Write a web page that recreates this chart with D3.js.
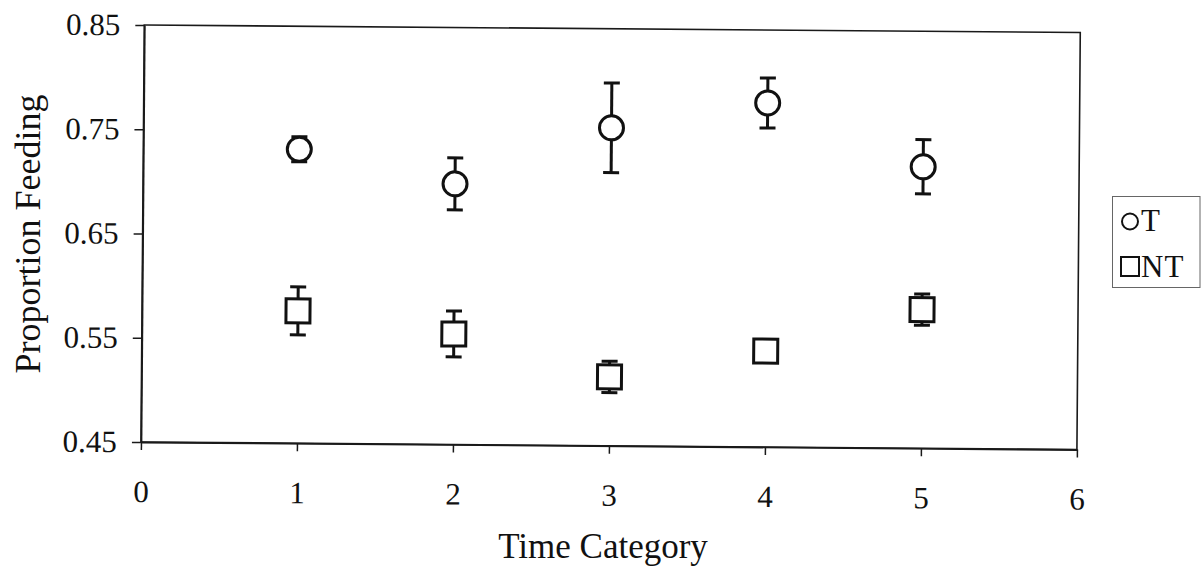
<!DOCTYPE html>
<html>
<head>
<meta charset="utf-8">
<script src="https://cdn.jsdelivr.net/npm/d3@7"></script>
<style>
  html, body { margin: 0; padding: 0; background: #fff; }
  svg { display: block; }
  text { font-family: "Liberation Serif", "Times New Roman", serif; fill: #111; }
</style>
</head>
<body>
<svg id="chart" width="1201" height="573"></svg>
<script>
// Time categories and the two series (mean proportion feeding, with error)
const categories = [1, 2, 3, 4, 5];
const tValues   = [0.732, 0.700, 0.755, 0.780, 0.720];
const tErrors   = [0.012, 0.025, 0.043, 0.024, 0.026];
const ntValues  = [0.577, 0.556, 0.516, 0.542, 0.583];
const ntErrors  = [0.023, 0.022, 0.015, 0.010, 0.015];
const xTicks = [0, 1, 2, 3, 4, 5, 6];
const yTicks = [0.45, 0.55, 0.65, 0.75, 0.85];
const seriesNames = ["T", "NT"];

const svg = d3.select("#chart");
const W = 936, H = 417;

// plot area, with the slight tilt of the printed figure
const g = svg.append("g").attr("transform", "translate(144.3,25) rotate(0.46)");

const x = d3.scaleLinear().domain([0, 6]).range([0, W]);
const y = d3.scaleLinear().domain([0.45, 0.85]).range([H, 0]);

// frame
g.append("rect").attr("x", 0).attr("y", 0).attr("width", W).attr("height", H)
  .attr("fill", "none").attr("stroke", "#1a1a1a").attr("stroke-width", 1.6);

const yAxis = g.append("g")
  .call(d3.axisLeft(y).tickValues(yTicks).tickFormat(d3.format(".2f")).tickSize(9).tickSizeOuter(0).tickPadding(15));
const xAxis = g.append("g").attr("transform", `translate(0,${H})`)
  .call(d3.axisBottom(x).tickValues(xTicks).tickFormat(d3.format("d")).tickSize(8).tickSizeOuter(0).tickPadding(30));
[yAxis, xAxis].forEach(a => {
  a.select(".domain").attr("stroke", "#1a1a1a").attr("stroke-width", 1.8);
  a.selectAll(".tick line").attr("stroke", "#1a1a1a").attr("stroke-width", 1.5);
  a.selectAll(".tick text").style("font-family", "Liberation Serif, serif").style("font-size", "31px").attr("fill", "#111");
});

function errorBars(values, errors) {
  const eb = g.append("g").attr("stroke", "#111").attr("stroke-width", 3).attr("fill", "none");
  categories.forEach((c, i) => {
    const cx = x(c), hi = y(values[i] + errors[i]), lo = y(values[i] - errors[i]);
    eb.append("line").attr("x1", cx).attr("x2", cx).attr("y1", hi).attr("y2", lo);
    eb.append("line").attr("x1", cx - 8).attr("x2", cx + 8).attr("y1", hi).attr("y2", hi);
    eb.append("line").attr("x1", cx - 8).attr("x2", cx + 8).attr("y1", lo).attr("y2", lo);
  });
}
errorBars(tValues, tErrors);
errorBars(ntValues, ntErrors);

// T: open circles
g.append("g").selectAll("circle").data(categories).join("circle")
  .attr("cx", d => x(d)).attr("cy", (d, i) => y(tValues[i])).attr("r", 12)
  .attr("fill", "#fff").attr("stroke", "#111").attr("stroke-width", 3);

// NT: open squares
const s = 24;
g.append("g").selectAll("rect").data(categories).join("rect")
  .attr("x", d => x(d) - s / 2).attr("y", (d, i) => y(ntValues[i]) - s / 2)
  .attr("width", s).attr("height", s)
  .attr("fill", "#fff").attr("stroke", "#111").attr("stroke-width", 3);

// axis titles
svg.append("text").attr("x", 603).attr("y", 558).attr("text-anchor", "middle")
  .style("font-size", "35px").text("Time Category");
svg.append("text").attr("transform", "translate(40,234) rotate(-90)").attr("text-anchor", "middle")
  .style("font-size", "36px").text("Proportion Feeding");

// legend
const lg = svg.append("g");
lg.append("rect").attr("x", 1112.5).attr("y", 196.5).attr("width", 87.5).attr("height", 91)
  .attr("fill", "#fff").attr("stroke", "#666").attr("stroke-width", 1);
lg.append("circle").attr("cx", 1130).attr("cy", 221.5).attr("r", 8)
  .attr("fill", "none").attr("stroke", "#111").attr("stroke-width", 2);
lg.append("rect").attr("x", 1121).attr("y", 257).attr("width", 18).attr("height", 19)
  .attr("fill", "none").attr("stroke", "#111").attr("stroke-width", 2);
lg.selectAll("text.lab").data(seriesNames).join("text").attr("class", "lab")
  .attr("x", 1141).attr("y", (d, i) => 231 + i * 46)
  .style("font-size", "31px").style("letter-spacing", "1px").text(d => d);
</script>
</body>
</html>
